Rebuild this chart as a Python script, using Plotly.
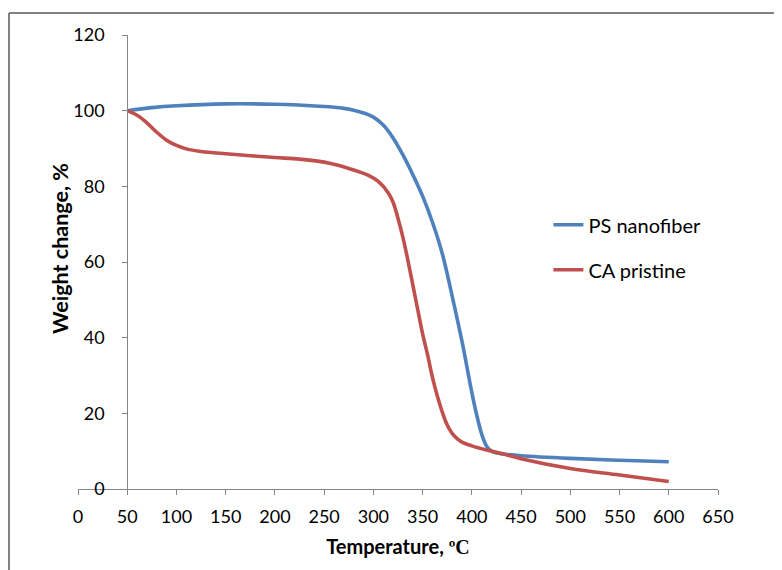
import plotly.graph_objects as go

# Data
ps_temp = [50, 75, 100, 150, 200, 250, 260, 270, 280, 290, 300, 310, 320, 330, 340, 350, 360, 370, 380, 390, 400, 405, 410, 415, 420, 430, 450, 500, 550, 600]
ps_weight = [100, 100.8, 101.3, 101.8, 101.7, 101.1, 100.9, 100.6, 100.1, 99.4, 98.3, 96.2, 92.8, 88.3, 83.1, 77.4, 70.5, 62.2, 51.0, 39.0, 25.5, 19.5, 14.5, 11.3, 10.0, 9.3, 8.8, 8.1, 7.6, 7.2]

ca_temp = [50, 60, 70, 80, 90, 100, 110, 125, 150, 175, 200, 225, 250, 265, 275, 285, 295, 305, 315, 320, 325, 330, 335, 340, 345, 350, 355, 360, 365, 370, 375, 380, 385, 390, 400, 415, 430, 450, 500, 550, 600]
ca_weight = [100, 98.8, 96.8, 94.3, 92.2, 90.8, 89.9, 89.2, 88.6, 88.1, 87.6, 87.2, 86.4, 85.5, 84.7, 83.9, 82.9, 81.3, 78.3, 75.8, 71.5, 66.5, 60.5, 54.0, 47.5, 41.0, 35.5, 29.5, 24.5, 20.3, 16.9, 14.7, 13.3, 12.4, 11.4, 10.3, 9.4, 8.0, 5.4, 3.7, 2.0]

series_names = ["PS nanofiber", "CA pristine"]
x_ticks = list(range(0, 651, 50))
y_ticks = list(range(0, 121, 20))
x_title = "<b>Temperature, </b><span style='font-family:Liberation Serif'><b>ºC</b></span>"
y_title = "<b>Weight change, %</b>"

BLUE = "#4F81BD"
RED = "#C0504D"
AXIS = "#868686"
FONT = "Lato, Carlito, Calibri, sans-serif"

fig = go.Figure()
fig.add_trace(go.Scatter(x=ps_temp, y=ps_weight, mode="lines", name=series_names[0],
                         line=dict(color=BLUE, width=3.6, shape="spline", smoothing=1.0),
                         legendgroup="a"))
fig.add_trace(go.Scatter(x=ca_temp, y=ca_weight, mode="lines", name=series_names[1],
                         line=dict(color=RED, width=3.6, shape="spline", smoothing=1.0),
                         legendgroup="b"))

# page body has an 8px margin, so the figure is sized to fit the window
fig.update_layout(
    width=774, height=562,
    margin=dict(l=70, r=64, t=27, b=81),
    paper_bgcolor="white", plot_bgcolor="white",
    font=dict(family=FONT, size=18, color="#000000"),
    showlegend=True,
    legend=dict(x=0.735, y=0.625, xanchor="left", yanchor="top",
                font=dict(size=20), tracegroupgap=16, bgcolor="rgba(0,0,0,0)",
                itemwidth=30),
    xaxis=dict(range=[0, 650], tickvals=x_ticks, showgrid=False, zeroline=False,
               showline=True, linecolor=AXIS, linewidth=1,
               ticks="outside", ticklen=5, tickcolor=AXIS,
               tickfont=dict(size=18), ticklabelstandoff=6,
               title=dict(text=x_title, font=dict(size=20), standoff=14)),
    yaxis=dict(range=[0, 120], tickvals=y_ticks, showgrid=False, zeroline=False,
               anchor="free", position=50 / 650,
               showline=True, linecolor=AXIS, linewidth=1,
               ticks="outside", ticklen=5, tickcolor=AXIS,
               tickfont=dict(size=18), ticklabelstandoff=14),
    annotations=[dict(text=y_title, textangle=-90, xref="paper", yref="paper",
                      x=(52 - 70) / 640, y=(481 - 241) / 454, xanchor="center", yanchor="middle",
                      showarrow=False, font=dict(size=21.5))],
)

# outer chart frame (top and left edges visible in reference)
fx = (1 - 70) / 640
fy = (454 + 27 - 5) / 454
fig.add_shape(type="line", xref="paper", yref="paper", x0=fx, x1=1.2,
              y0=fy, y1=fy, line=dict(color="#595959", width=1.5))
fig.add_shape(type="line", xref="paper", yref="paper", x0=fx, x1=fx,
              y0=fy, y1=-0.3, line=dict(color="#595959", width=1.5))

fig.write_html("out.html")
